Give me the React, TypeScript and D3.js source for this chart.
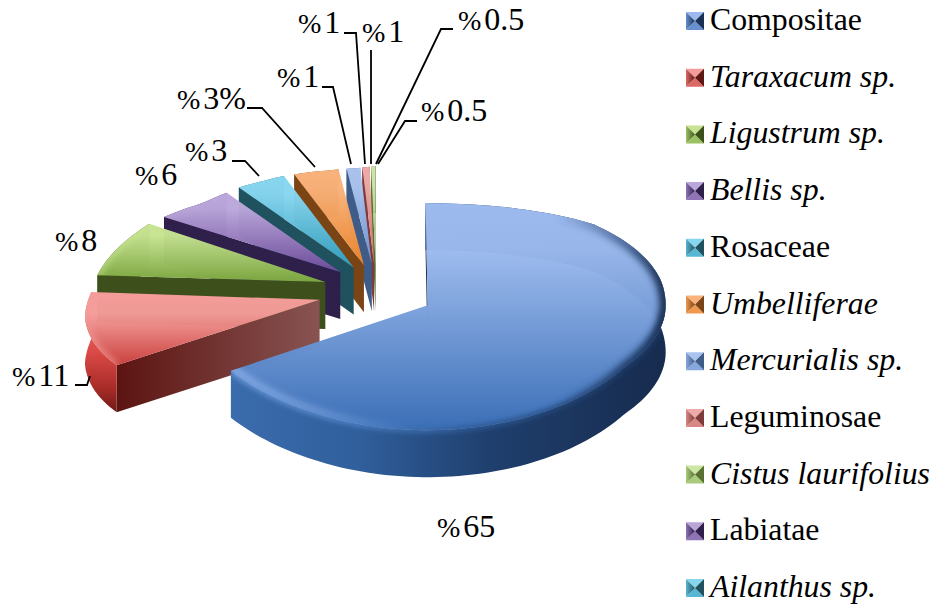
import React from "react";
import * as d3 from "d3";

// Pollen spectrum: taxon names, shares and the label printed next to each wedge.
const taxa = ["Compositae", "Taraxacum sp.", "Ligustrum sp.", "Bellis sp.", "Rosaceae", "Umbelliferae", "Mercurialis sp.", "Leguminosae", "Cistus laurifolius", "Labiatae", "Ailanthus sp."];
const italicTaxa = [false, true, true, true, false, true, true, false, true, false, true];
const shares = [65, 11, 8, 6, 3, 3, 1, 1, 1, 0.5, 0.5];
const shareLabels = ["65", "11", "8", "6", "3", "3%", "1", "1", "1", "0.5", "0.5"];

const faceLight = ["#9CBAEE", "#F49C99", "#C6E391", "#BBA7DB", "#87D6F0", "#F9B27A", "#A9C3EE", "#EDAAA9", "#CBE6A5", "#B9A5D8", "#88D5EE"];
const faceDeep = ["#3A6EB6", "#C9403C", "#7AA53E", "#6C4A9A", "#2E9CBD", "#E8832C", "#6C92D0", "#C96A68", "#8DB45A", "#6C4A9A", "#2E9CBD"];
const wallColor = ["#1A3156", "#5E1714", "#3D4F1B", "#2E1F4B", "#20515F", "#7A4415", "#3F5C88", "#7E3B3A", "#5A7030", "#2E1F4B", "#20515F"];

// Label placement (text start, baseline) and the leader polyline drawn to the wedge.
const labelAnchors: [number, number][] = [[437, 537], [12, 386], [55, 251], [135, 185], [185, 161], [177, 109], [277, 87], [298, 33], [362, 42], [458, 30], [421, 121]];
const leaders: [number, number][][] = [
  [],
  [[75, 385], [87, 385], [90, 376]],
  [],
  [],
  [[232, 161], [245, 161], [259, 176]],
  [[247, 108], [262, 108], [315, 167]],
  [[322, 87], [333, 87], [351, 164]],
  [[344, 33], [356, 33], [365, 164]],
  [[371, 50], [371, 164]],
  [[453, 29], [441, 29], [376, 164]],
  [[417, 121], [405, 121], [378, 164]],
];

const W = 938;
const H = 608;
const serif = "'Liberation Serif', 'Times New Roman', serif";

// Ground plane of the pie and its tilted view.
const centerX = 376;
const radius = 238;
const explode = 58;
const depth = 47;
const screenY = d3.scaleLinear()
  .domain([-264, -160, -26, 18, 145, 212, 265, 296])
  .range([430, 367, 305, 282, 224, 203, 176, 166]);
const leftFactor = d3.scaleLinear()
  .domain([0, 4, 8, 12, 15, 20, 26, 35, 55, 83, 100, 122, 140, 180])
  .range([0, 0.03, 0.18, 0.3, 0.46, 0.62, 0.7, 0.81, 0.87, 0.95, 1, 1.045, 1.03, 1])
  .clamp(true);
const rightFactor = d3.scaleLinear().domain([0, 15, 30]).range([0.94, 0.96, 1]).clamp(true);

type Pt = [number, number];
function project(gx: number, gy: number): Pt {
  const phi = Math.abs(Math.atan2(gx, gy)) * 180 / Math.PI;
  const s = gx < 0 ? leftFactor(phi) : rightFactor(phi);
  return [centerX + gx * s, screenY(gy)];
}

const pieLayout = d3.pie<number>().sort(null).value((d) => d);
const lineGen = d3.line<Pt>();

function buildWedge(start: number, end: number) {
  const mid = (start + end) / 2;
  const ax = explode * Math.sin(mid);
  const ay = explode * Math.cos(mid);
  const apex = project(ax, ay);
  const steps = Math.max(2, Math.ceil((end - start) / 0.03));
  const arc = d3.range(steps + 1).map((i) => {
    const t = start + (end - start) * i / steps;
    return project(ax + radius * Math.sin(t), ay + radius * Math.cos(t));
  });
  const down = (p: Pt): Pt => [p[0], p[1] + depth];
  // Only the part of the outer arc nearer the viewer than the wedge tip meets a visible rim.
  const nearArc = arc.filter((p) => p[1] > apex[1] + 5);
  return {
    face: lineGen([apex, ...arc])! + "Z",
    rim: lineGen([...arc, ...arc.map(down).reverse()])! + "Z",
    wall: lineGen([apex, arc[0], down(arc[0]), down(apex)])! + "Z",
    edge: lineGen(arc)!,
    nearEdge: lineGen(nearArc) ?? "",
  };
}

const arcs = pieLayout(shares);
const wedges = arcs.map((a) => buildWedge(a.startAngle, a.endAngle));
const paintOrder = d3.range(shares.length).reverse();
const swatchMid = faceLight.map((c, i) => d3.interpolateRgb(c, faceDeep[i])(0.55));

function rimFill(i: number) {
  if (i === 0) return "url(#mainRim)";
  if (i === 1) return "url(#redRim)";
  return wallColor[i];
}

export default function App() {
  return (
    <svg width={W} height={H} viewBox={`0 0 ${W} ${H}`} style={{ position: "absolute", left: 0, top: 0, display: "block", background: "#fff" }}>
      <defs>
        <filter id="soft" x="-20%" y="-20%" width="140%" height="140%">
          <feGaussianBlur stdDeviation="3" />
        </filter>
        <filter id="seam" x="-20%" y="-20%" width="140%" height="140%">
          <feGaussianBlur stdDeviation="2.4" />
        </filter>
        <linearGradient id="mainBevel" gradientUnits="userSpaceOnUse" x1="230" y1="0" x2="666" y2="0">
          <stop offset="0" stopColor="#8FB2EA" stopOpacity="0.9" />
          <stop offset="0.22" stopColor="#86A9E2" stopOpacity="0.55" />
          <stop offset="0.42" stopColor="#6E96D6" stopOpacity="0" />
          <stop offset="0.75" stopColor="#23406E" stopOpacity="0" />
          <stop offset="0.9" stopColor="#23406E" stopOpacity="0.6" />
          <stop offset="1" stopColor="#162A4C" stopOpacity="0.95" />
        </linearGradient>
        <linearGradient id="mainSeam" gradientUnits="userSpaceOnUse" x1="230" y1="0" x2="666" y2="0">
          <stop offset="0" stopColor="#6F9BDA" />
          <stop offset="0.3" stopColor="#4E80C4" />
          <stop offset="0.55" stopColor="#2E5B98" />
          <stop offset="1" stopColor="#1C3660" />
        </linearGradient>
        <linearGradient id="mainRim" gradientUnits="userSpaceOnUse" x1="228" y1="0" x2="666" y2="0">
          <stop offset="0" stopColor="#3B6CAD" />
          <stop offset="0.3" stopColor="#305F9C" />
          <stop offset="0.6" stopColor="#1F3F6D" />
          <stop offset="1" stopColor="#172B4E" />
        </linearGradient>
        <linearGradient id="redRim" gradientUnits="userSpaceOnUse" x1="0" y1="290" x2="0" y2="413">
          <stop offset="0" stopColor="#F08A86" />
          <stop offset="0.5" stopColor="#DC4A46" />
          <stop offset="0.8" stopColor="#A82B28" />
          <stop offset="1" stopColor="#6E1A17" />
        </linearGradient>
        <linearGradient id="frontWall" x1="0" y1="0" x2="1" y2="0">
          <stop offset="0" stopColor="#5C1411" />
          <stop offset="1" stopColor="#885452" />
        </linearGradient>
        {shares.map((_, i) => (
          <linearGradient key={i} id={`face${i}`} x1="0" y1="0" x2="0" y2="1">
            <stop offset="0" stopColor={faceLight[i]} />
            <stop offset={i === 1 ? 0.3 : 0.2} stopColor={faceLight[i]} stopOpacity="0.97" />
            <stop offset="1" stopColor={faceDeep[i]} />
          </linearGradient>
        ))}
        {shares.map((_, i) => (
          <linearGradient key={i} id={`swL${i}`} x1="0" y1="0" x2="1" y2="0">
            <stop offset="0" stopColor={swatchMid[i]} />
            <stop offset="1" stopColor={wallColor[i]} />
          </linearGradient>
        ))}
        {wedges.map((w, i) => (
          <clipPath key={i} id={`clip${i}`}><path d={w.face} /></clipPath>
        ))}
        {wedges.map((w, i) => (
          <clipPath key={i} id={`body${i}`}>
            <path d={w.face} />
            <path d={w.rim} />
          </clipPath>
        ))}
      </defs>

      {paintOrder.map((i) => {
        const w = wedges[i];
        return (
          <g key={taxa[i]}>
            <path d={w.wall} fill={i === 1 ? "url(#frontWall)" : wallColor[i]} />
            <path d={w.rim} fill={rimFill(i)} />
            <path d={w.face} fill={`url(#face${i})`} />
            <g clipPath={`url(#clip${i})`}>
              <path d={w.edge} fill="none" filter="url(#soft)" strokeWidth={i === 0 ? 13 : 6}
                stroke={i === 0 ? "url(#mainBevel)" : faceLight[i]} strokeOpacity={i === 0 ? 1 : 0.7} />
            </g>
            {i === 0 && (
              <g clipPath={`url(#body${i})`}>
                <path d={w.nearEdge} fill="none" filter="url(#seam)" strokeWidth={5} stroke="url(#mainSeam)" />
              </g>
            )}
          </g>
        );
      })}

      {leaders.map((pts, i) => pts.length > 0 && (
        <path key={i} d={lineGen(pts)!} fill="none" stroke="#000" strokeWidth={1.8} />
      ))}

      <g fontFamily={serif} fill="#000">
        {shareLabels.map((t, i) => (
          <text key={i} x={labelAnchors[i][0]} y={labelAnchors[i][1]} fontSize={28}>
            %<tspan dx={3} fontSize={32}>{t}</tspan>
          </text>
        ))}
      </g>

      <g>
        {taxa.map((name, i) => {
          const size = 18;
          const x0 = 686;
          const yc = 21 + i * 56.7;
          const l = x0, r = x0 + size, t = yc - size / 2, b = yc + size / 2;
          const cx = x0 + size / 2;
          const tri = (p: Pt[]) => lineGen(p)! + "Z";
          return (
            <g key={name}>
              <path d={tri([[l, t], [r, t], [cx, yc]])} fill={faceLight[i]} />
              <path d={tri([[l, b], [r, b], [cx, yc]])} fill={swatchMid[i]} />
              <path d={tri([[l, t], [l, b], [cx, yc]])} fill={`url(#swL${i})`} />
              <path d={tri([[r, t], [r, b], [cx, yc]])} fill={wallColor[i]} />
              <text x={710} y={yc + 9} fontFamily={serif} fontSize={31.8}
                fontStyle={italicTaxa[i] ? "italic" : "normal"} fill="#000">{name}</text>
            </g>
          );
        })}
      </g>
    </svg>
  );
}
